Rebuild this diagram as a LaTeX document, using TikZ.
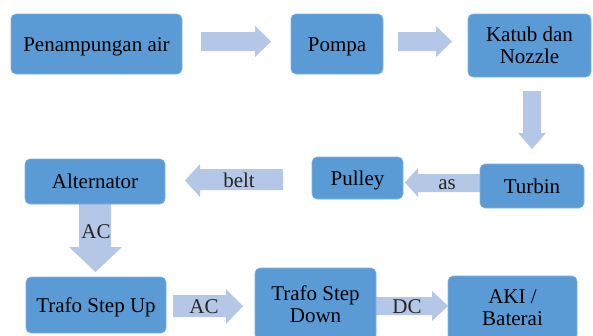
\documentclass[tikz,border=0pt]{standalone}
\usepackage{fontspec}
\setmainfont{Liberation Serif}
\definecolor{boxblue}{HTML}{5B9BD5}
\definecolor{boxedge}{HTML}{7FB2E2}
\definecolor{arrowblue}{HTML}{B4C7E7}
\begin{document}
\begin{tikzpicture}[x=1pt,y=-1pt,
  box/.style={draw=boxedge,line width=0.6pt,fill=boxblue,rounded corners=5pt,
    inner sep=0pt,font=\fontsize{21}{22}\selectfont,text=black},
  oneline/.style={box,text height=14pt,text depth=0pt},
  twoline/.style={box,align=center},
  blockarrow/.style={fill=arrowblue,draw=none},
  lbl/.style={font=\fontsize{21}{22}\selectfont,text=black!85,anchor=base,inner sep=0pt}]
\useasboundingbox (0,0) rectangle (593,335);
\clip (0,0) rectangle (593,335);
% block arrows
\fill[blockarrow] (201,32) -- (255,32) -- (255,26) -- (271,41.5) -- (255,57) -- (255,51) -- (201,51) -- cycle;
\fill[blockarrow] (398,32) -- (436,32) -- (436,26) -- (452,41.5) -- (436,57) -- (436,51) -- (398,51) -- cycle;
\fill[blockarrow] (523,91) -- (541,91) -- (541,133) -- (546,133) -- (532,149) -- (518,133) -- (523,133) -- cycle;
\fill[blockarrow] (482,174) -- (418,174) -- (418,168) -- (405,182.5) -- (418,197) -- (418,192) -- (482,192) -- cycle;
\fill[blockarrow] (283,169) -- (200,169) -- (200,164) -- (185,180.5) -- (200,197) -- (200,190) -- (283,190) -- cycle;
\fill[blockarrow] (79,204) -- (111,204) -- (111,247) -- (122,247) -- (95.5,272) -- (69,247) -- (79,247) -- cycle;
\fill[blockarrow] (173,295) -- (226,295) -- (226,289) -- (243,306) -- (226,324) -- (226,317) -- (173,317) -- cycle;
\fill[blockarrow] (374,297) -- (432,297) -- (432,291) -- (448,306) -- (432,321) -- (432,315) -- (374,315) -- cycle;
% boxes
\node[oneline,minimum width=171pt,minimum height=60pt] (tank) at (96.5,44) {Penampungan air};
\node[oneline,minimum width=92pt,minimum height=60pt] (pump) at (337,44) {Pompa};
\node[twoline,minimum width=123pt,minimum height=63pt] (valve) at (529.5,45.5) {Katub dan\\Nozzle};
\node[oneline,minimum width=104pt,minimum height=44pt] (turb) at (532,186) {Turbin};
\node[oneline,minimum width=91pt,minimum height=42pt] (pull) at (357.5,178) {Pulley};
\node[oneline,minimum width=140pt,minimum height=45pt] (alt) at (95,181.5) {Alternator};
\node[oneline,minimum width=140pt,minimum height=56pt] (tsu) at (96,305) {Trafo Step Up};
\node[twoline,minimum width=121pt,minimum height=72pt] (tsd) at (315.5,304) {Trafo Step\\Down};
\node[twoline,minimum width=129pt,minimum height=64pt] (aki) at (512.5,308) {AKI /\\Baterai};
% labels
\node[lbl] (lbelt) at (239,187) {belt};
\node[lbl] (las) at (447,189) {as};
\node[lbl] (lac1) at (96,238) {AC};
\node[lbl] (lac2) at (204,313) {AC};
\node[lbl] (ldc) at (407,313) {DC};
\end{tikzpicture}
\end{document}
